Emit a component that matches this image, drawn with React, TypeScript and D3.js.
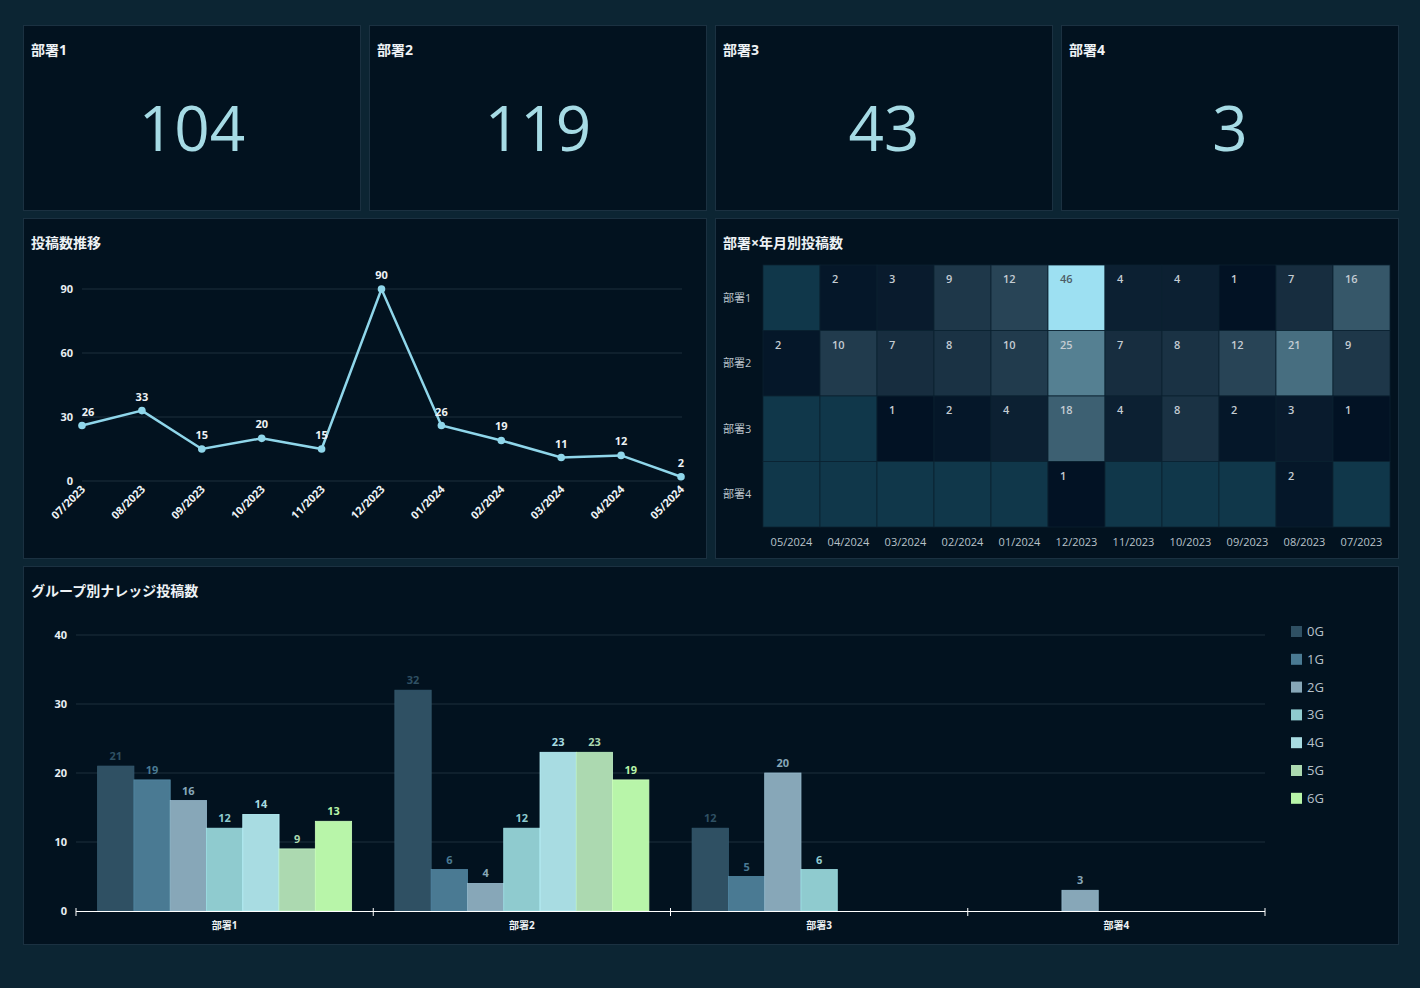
import React from 'react';
import * as d3 from 'd3';

const depts = ['部署1', '部署2', '部署3', '部署4'];
const deptTotals = [104, 119, 43, 3];

const months = ['07/2023', '08/2023', '09/2023', '10/2023', '11/2023', '12/2023', '01/2024', '02/2024', '03/2024', '04/2024', '05/2024'];
const monthlyPosts = [26, 33, 15, 20, 15, 90, 26, 19, 11, 12, 2];
const lineTicks = [0, 30, 60, 90];

// heatmap columns run newest -> oldest
const heatMonths = ['05/2024', '04/2024', '03/2024', '02/2024', '01/2024', '12/2023', '11/2023', '10/2023', '09/2023', '08/2023', '07/2023'];
const heat1 = [null, 2, 3, 9, 12, 46, 4, 4, 1, 7, 16];
const heat2 = [2, 10, 7, 8, 10, 25, 7, 8, 12, 21, 9];
const heat3 = [null, null, 1, 2, 4, 18, 4, 8, 2, 3, 1];
const heat4 = [null, null, null, null, null, 1, null, null, null, 2, null];
const heatRows = [heat1, heat2, heat3, heat4];

const groups = ['0G', '1G', '2G', '3G', '4G', '5G', '6G'];
const groupColors = ['#2f5063', '#4a7a93', '#87a7b8', '#8fcbcf', '#a8dce2', '#acd9b0', '#b8f5a9'];
const dept1Groups = [21, 19, 16, 12, 14, 9, 13];
const dept2Groups = [32, 6, 4, 12, 23, 23, 19];
const dept3Groups = [12, 5, 20, 6, 0, 0, 0];
const dept4Groups = [0, 0, 3, 0, 0, 0, 0];
const groupRows = [dept1Groups, dept2Groups, dept3Groups, dept4Groups];
const barTicks = [0, 10, 20, 30, 40];

const FONT = '"Open Sans", "Noto Sans CJK JP", sans-serif';
const CARD = '#02121f';
const CARD_BORDER = '#1b3141';
const GRID = '#1c2f3d';

const Card = ({ x, y, w, h, title }: { x: number; y: number; w: number; h: number; title: string }) => (
  <g>
    <rect x={x + 0.5} y={y + 0.5} width={w} height={h} fill={CARD} stroke={CARD_BORDER} />
    <text x={x + 8} y={y + 30} fill="#eef2f5" fontSize={14} fontWeight={700}>{title}</text>
  </g>
);

const Kpis = () => {
  const xs = [23, 369, 715, 1061];
  return (
    <g>
      {depts.map((d, i) => (
        <g key={d}>
          <Card x={xs[i]} y={25} w={337} h={185} title={d} />
          <text x={xs[i] + 169} y={151} textAnchor="middle" fill="#a6dbe5" fontSize={62} fontWeight={400}>
            {deptTotals[i]}
          </text>
        </g>
      ))}
    </g>
  );
};

const LineChart = () => {
  const x = d3.scalePoint<string>().domain(months).range([82, 681]);
  const y = d3.scaleLinear().domain([0, 90]).range([481, 289]);
  const line = d3.line<number>().x((_, i) => x(months[i])!).y(d => y(d));
  return (
    <g>
      <Card x={23} y={218} w={683} h={340} title="投稿数推移" />
      {lineTicks.map(t => (
        <g key={t}>
          <line x1={82} x2={682} y1={y(t)} y2={y(t)} stroke={GRID} />
          <text x={73} y={y(t) + 4} textAnchor="end" fill="#e8eef2" fontSize={11} fontWeight={700}>{t}</text>
        </g>
      ))}
      <path d={line(monthlyPosts)!} fill="none" stroke="#8fd6ea" strokeWidth={2.5} />
      {monthlyPosts.map((v, i) => (
        <g key={i}>
          <circle cx={x(months[i])} cy={y(v)} r={3.8} fill="#8fd6ea" />
          <text x={x(months[i])! + (i === 0 ? 6 : 0)} y={y(v) - 10} textAnchor="middle" fill="#eef2f5" fontSize={11} fontWeight={700}>{v}</text>
        </g>
      ))}
      {months.map(m => (
        <text key={m} transform={`translate(${x(m)! + 4},${490}) rotate(-45)`} textAnchor="end" fill="#eef2f5" fontSize={11} fontWeight={700}>{m}</text>
      ))}
    </g>
  );
};

const Heatmap = () => {
  const x = d3.scaleBand<string>().domain(heatMonths).range([763, 1390]);
  const y = d3.scaleBand<string>().domain(depts).range([265, 527]);
  const color = d3.scaleLinear<string>().domain([1, 46]).range(['#021224', '#9de0f2']);
  return (
    <g>
      <Card x={715} y={218} w={683} h={340} title="部署×年月別投稿数" />
      {heatRows.map((row, r) => row.map((v, c) => (
        <g key={`${r}-${c}`}>
          <rect x={x(heatMonths[c])} y={y(depts[r])} width={x.bandwidth()} height={y.bandwidth()}
            fill={v == null ? '#10374a' : color(v)} stroke="#0b2231" strokeWidth={0.8} />
          {v != null && (
            <text x={x(heatMonths[c])! + 12} y={y(depts[r])! + 18}
              fill={d3.hsl(color(v)).l > 0.6 ? '#4d5c66' : '#c4ccd3'} fontSize={11} fontWeight={600}>{v}</text>
          )}
        </g>
      )))}
      {depts.map(d => (
        <text key={d} x={723} y={y(d)! + y.bandwidth() / 2 + 4} fill="#b9c2ca" fontSize={11}>{d}</text>
      ))}
      {heatMonths.map(m => (
        <text key={m} x={x(m)! + x.bandwidth() / 2} y={546} textAnchor="middle" fill="#b9c2ca" fontSize={11}>{m}</text>
      ))}
    </g>
  );
};

const BarChart = () => {
  const pad = 0.1455;
  const x0 = d3.scaleBand<string>().domain(depts).range([76, 1265]).paddingInner(pad).paddingOuter(pad / 2);
  const x1 = d3.scaleBand<string>().domain(groups).range([0, x0.bandwidth()]);
  const y = d3.scaleLinear().domain([0, 40]).range([911, 635]);
  const step = x0.step();
  const bounds = depts.map(d => x0(d)! - step * pad / 2).concat([1265]);
  return (
    <g>
      <Card x={23} y={566} w={1375} h={378} title="グループ別ナレッジ投稿数" />
      {barTicks.map(t => (
        <g key={t}>
          {t > 0 && <line x1={76} x2={1265} y1={y(t)} y2={y(t)} stroke={GRID} />}
          <text x={67} y={y(t) + 4} textAnchor="end" fill="#e8eef2" fontSize={11} fontWeight={700}>{t}</text>
        </g>
      ))}
      {groupRows.map((row, r) => row.map((v, g) => v > 0 && (
        <g key={`${r}-${g}`}>
          <rect x={x0(depts[r])! + x1(groups[g])!} y={y(v)} width={x1.bandwidth()} height={y(0) - y(v)}
            fill={groupColors[g]} stroke={d3.color(groupColors[g])!.brighter(0.3).toString()} strokeWidth={0.8} />
          <text x={x0(depts[r])! + x1(groups[g])! + x1.bandwidth() / 2} y={y(v) - 6} textAnchor="middle"
            fill={groupColors[g]} fontSize={11} fontWeight={700}>{v}</text>
        </g>
      )))}
      <line x1={76} x2={1265} y1={911.5} y2={911.5} stroke="#ffffff" strokeWidth={1.2} />
      {bounds.map((b, i) => (
        <line key={i} x1={b} x2={b} y1={908} y2={916} stroke="#ffffff" />
      ))}
      {depts.map(d => (
        <text key={d} x={x0(d)! + x0.bandwidth() / 2} y={929} textAnchor="middle" fill="#eef2f5" fontSize={10} fontWeight={700}>{d}</text>
      ))}
      {groups.map((g, i) => (
        <g key={g}>
          <rect x={1291} y={626 + i * 27.8} width={11} height={11} fill={groupColors[i]} />
          <text x={1307} y={636 + i * 27.8} fill="#b7c1ca" fontSize={13}>{g}</text>
        </g>
      ))}
    </g>
  );
};

export default function App() {
  return (
    <div style={{ position: 'absolute', left: 0, top: 0, width: 1420, height: 988 }}>
      <svg width={1420} height={988} style={{ display: 'block', fontFamily: FONT }}>
        <rect width={1420} height={988} fill="#0c2533" />
        <Kpis />
        <LineChart />
        <Heatmap />
        <BarChart />
      </svg>
    </div>
  );
}
